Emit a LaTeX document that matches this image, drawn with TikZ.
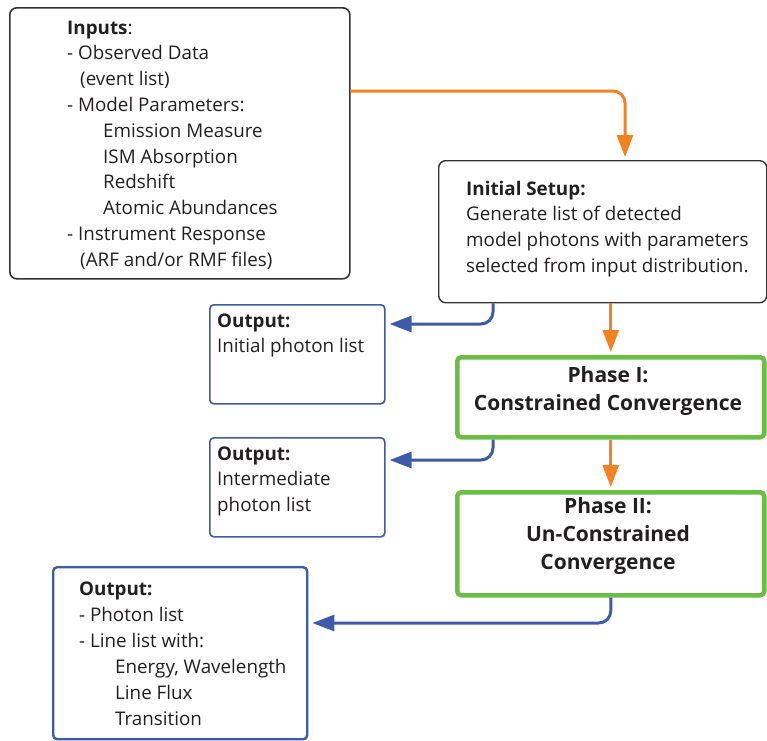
\documentclass[tikz,border=0pt]{standalone}
\usepackage{fontspec}
\setmainfont{Open Sans}
\usetikzlibrary{arrows.meta,calc}
\definecolor{arrOrange}{HTML}{F58220}
\definecolor{arrBlue}{HTML}{3D5BA9}
\definecolor{phGreen}{HTML}{6ABD45}
\definecolor{boxGray}{HTML}{333333}
\definecolor{txtDark}{HTML}{231F20}
\begin{document}
\begin{tikzpicture}[x=1pt,y=-1pt,
  inbox/.style={draw=boxGray, line width=1.6pt, rounded corners=7pt, anchor=north west, inner sep=0pt},
  outbox/.style={draw=arrBlue, line width=1.6pt, rounded corners=4pt, anchor=north west, inner sep=0pt},
  phasebox/.style={draw=phGreen, line width=4.5pt, rounded corners=4pt, anchor=north west, inner sep=0pt},
  txt/.style={anchor=base west, align=left, inner sep=0pt, text=txtDark, font=\fontsize{18.8}{25.8}\selectfont},
  phtxt/.style={anchor=base, align=center, inner sep=0pt, text=txtDark, font=\bfseries\fontsize{21}{28}\selectfont},
  oflow/.style={draw=arrOrange, line width=3pt, rounded corners=12pt, -{Triangle[length=22pt,width=16pt]}, shorten >=3pt},
  bflow/.style={draw=arrBlue, line width=3pt, rounded corners=12pt, -{Triangle[length=22pt,width=16pt]}, shorten >=4pt}
]
\useasboundingbox (0,0) rectangle (767,740);
% boxes
\node[inbox, minimum width=340pt, minimum height=271pt] (inputs) at (9,7) {};
\node[inbox, line width=1.4pt, minimum width=328pt, minimum height=142pt] (setup) at (438,160) {};
\node[outbox, minimum width=175pt, minimum height=99pt] (out1) at (209,304) {};
\node[outbox, minimum width=175pt, minimum height=99pt] (out2) at (209,437) {};
\node[phasebox, minimum width=307pt, minimum height=80pt] (p1) at (455,355) {};
\node[phasebox, minimum width=307pt, minimum height=103pt] (p2) at (455,490) {};
\node[outbox, line width=2.4pt, minimum width=254pt, minimum height=172pt] (out3) at (52,566) {};
% texts (anchor base = baseline of the last line)
\node[txt] (inputsT) at (67,266.2) {\textbf{Inputs}:\\
- Observed Data\\
\hspace*{13pt}(event list)\\
- Model Parameters:\\
\hspace*{36pt}Emission Measure\\
\hspace*{36pt}ISM Absorption\\
\hspace*{36pt}Redshift\\
\hspace*{36pt}Atomic Abundances\\
- Instrument Response\\
\hspace*{13pt}(ARF and/or RMF files)};
\node[txt] (setupT) at (466,272.4) {\textbf{Initial Setup:}\\
Generate list of detected\\
model photons with parameters\\
selected from input distribution.};
\node[txt] (out1T) at (217,352.8) {\textbf{Output:}\\Initial photon list};
\node[txt] (out2T) at (217,511.6) {\textbf{Output:}\\Intermediate\\photon list};
\node[phtxt] (p1T) at (608,410) {Phase I:\\Constrained Convergence};
\node[phtxt] (p2T) at (608,569) {Phase II:\\Un-Constrained\\Convergence};
\node[txt, font=\fontsize{18.8}{26}\selectfont] (out3T) at (79,725) {\textbf{Output:}\\
- Photon list\\
- Line list with:\\
\hspace*{36pt}Energy, Wavelength\\
\hspace*{36pt}Line Flux\\
\hspace*{36pt}Transition};
% connectors
\coordinate (oy) at (0,91);
\coordinate (ox) at (625,0);
\coordinate (bx) at (493,0);
\draw[oflow] (inputs.east |- oy) -| (setup.north -| ox);
\draw[oflow] (setup.south -| p1.north) -- (p1.north);
\draw[oflow] (p1.south) -- (p2.north);
\draw[bflow] (setup.south -| bx) |- ($(out1.north east)+(0,20)$);
\draw[bflow] (p1.south -| bx) |- ($(out2.north east)+(0,23)$);
\draw[bflow] (p2.south) |- ($(out3.north east)+(0,57)$);
\end{tikzpicture}
\end{document}
